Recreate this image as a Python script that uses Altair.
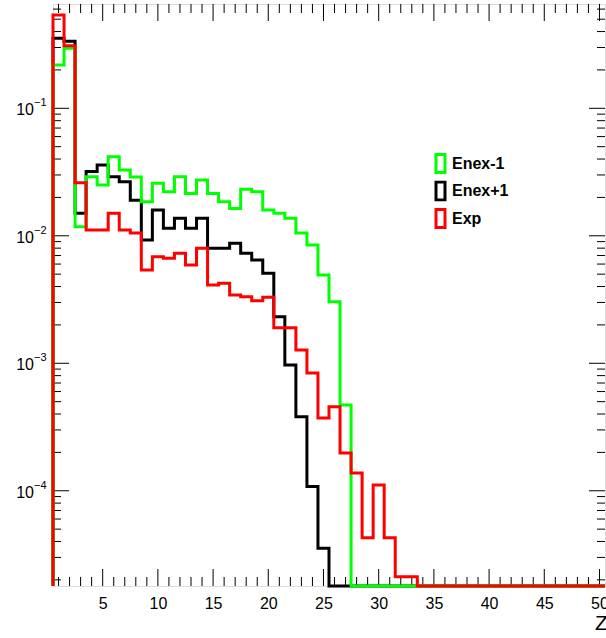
import altair as alt
import pandas as pd

FONT = "Liberation Sans"

# ---------------- data (bin contents, bins centred at 1..50, width 1) ----------------
bins = list(range(1, 51))

enex_m1 = [0.219, 0.296, 0.0118, 0.0291, 0.0250, 0.0417, 0.0328, 0.0289, 0.0185, 0.0258,
           0.0222, 0.0291, 0.0215, 0.0274, 0.0215, 0.0185, 0.0164, 0.0232, 0.0222, 0.0159,
           0.0150, 0.0137, 0.0105, 0.00848, 0.00493, 0.00304, 0.00047, 0, 0, 0,
           0, 0, 0, 0, 0, 0, 0, 0, 0, 0,
           0, 0, 0, 0, 0, 0, 0, 0, 0, 0]

enex_p1 = [0.354, 0.336, 0.0150, 0.0319, 0.0359, 0.0290, 0.0265, 0.0190, 0.00927, 0.0159,
           0.01146, 0.0137, 0.01146, 0.0137, 0.00798, 0.00798, 0.00873, 0.00730, 0.00646, 0.00508,
           0.00232, 0.000971, 0.000381, 0.000108, 0.0000354, 0, 0, 0, 0, 0,
           0, 0, 0, 0, 0, 0, 0, 0, 0, 0,
           0, 0, 0, 0, 0, 0, 0, 0, 0, 0]

exp_vals = [0.54, 0.31, 0.0261, 0.0111, 0.0111, 0.0150, 0.0111, 0.0105, 0.0054, 0.00686,
            0.00667, 0.0073, 0.0059, 0.00798, 0.00411, 0.00424, 0.00343, 0.00333, 0.0031, 0.0033,
            0.0019, 0.0019, 0.00127, 0.00084, 0.000372, 0.000457, 0.000198, 0.000138, 0.0000427, 0.000111,
            0.0000427, 0.0000212, 0.0000212, 0, 0, 0, 0, 0, 0, 0,
            0, 0, 0, 0, 0, 0, 0, 0, 0, 0]

series_names = ["Enex-1", "Enex+1", "Exp"]
series_colors = ["#00ff00", "#000000", "#ff0000"]
series_values = [enex_m1, enex_p1, exp_vals]
draw_order = ["Enex+1", "Enex-1", "Exp"]

x_min, x_max = 0.5, 50.5
y_min, y_max = 1.79e-5, 0.658

x_label_values = [5, 10, 15, 20, 25, 30, 35, 40, 45, 50]
x_minor_ticks = [v for v in range(1, 51) if v % 5 != 0]
y_major_ticks = [1e-1, 1e-2, 1e-3, 1e-4]
y_base_labels = ["10", "10", "10", "10"]
y_exp_labels = ["\u22121", "\u22122", "\u22123", "\u22124"]
y_mantissas = [2, 3, 4, 5, 6, 7, 8, 9]
y_decades = [1e-5, 1e-4, 1e-3, 1e-2, 1e-1]
y_minor_ticks = [m * d for d in y_decades for m in y_mantissas if y_min <= m * d <= y_max]

W, H = 552, 582

# ---------------- histogram outlines ----------------
rows = []
for name, vals in zip(series_names, series_values):
    k = 0
    rows.append(dict(series=name, x=x_min, y=y_min, k=k)); k += 1
    for b, v in zip(bins, vals):
        vv = max(v, y_min)
        rows.append(dict(series=name, x=b - 0.5, y=vv, k=k)); k += 1
        rows.append(dict(series=name, x=b + 0.5, y=vv, k=k)); k += 1
    rows.append(dict(series=name, x=x_max, y=y_min, k=k))
hist = pd.DataFrame(rows)

xs = alt.Scale(domain=[x_min, x_max], nice=False, zero=False)
ys = alt.Scale(type="log", domain=[y_min, y_max], nice=False)

legend = alt.Legend(
    orient="none", legendX=377, legendY=149, title=None, padding=0,
    symbolType="M-0.5,-1L0.5,-1L0.5,1L-0.5,1Z", symbolSize=324, symbolStrokeWidth=3,
    symbolFillColor="transparent", labelFont=FONT, labelFontSize=16, labelFontWeight="bold",
    labelColor="black", labelOffset=1, rowPadding=6.5, clipHeight=21,
)
color = alt.Color("series:N", scale=alt.Scale(domain=series_names, range=series_colors), legend=legend)

x_axis = alt.Axis(values=x_label_values, labelFont=FONT, labelFontSize=16, labelColor="black",
                  ticks=False, tickSize=0, domain=False, grid=False, title=None,
                  labelPadding=9, labelFlush=False, labelOverlap=False, format="d")

layers = []
for name in draw_order:
    layers.append(
        alt.Chart(hist).transform_filter(alt.datum.series == name)
        .mark_line(strokeWidth=3, strokeJoin="miter", strokeCap="butt", clip=False)
        .encode(
            x=alt.X("x:Q", scale=xs, axis=x_axis),
            y=alt.Y("y:Q", scale=ys, axis=None),
            color=color,
            order=alt.Order("k:Q"),
        )
    )

# ---------------- ticks (inside, all four sides) ----------------
def xticks(values, length):
    df = pd.DataFrame({"t": values})
    base = alt.Chart(df).mark_rule(color="black", strokeWidth=1)
    bottom = base.encode(x=alt.X("t:Q", scale=xs, axis=x_axis), y=alt.value(H), y2=alt.value(H - length))
    top = base.encode(x=alt.X("t:Q", scale=xs, axis=x_axis), y=alt.value(0), y2=alt.value(length))
    return [bottom, top]

def yticks(values, length):
    df = pd.DataFrame({"t": values})
    base = alt.Chart(df).mark_rule(color="black", strokeWidth=1)
    left = base.encode(y=alt.Y("t:Q", scale=ys, axis=None), x=alt.value(0), x2=alt.value(length))
    right = base.encode(y=alt.Y("t:Q", scale=ys, axis=None), x=alt.value(W), x2=alt.value(W - length))
    return [left, right]

tick_layers = (xticks(x_label_values, 17) + xticks(x_minor_ticks, 9)
               + yticks(y_major_ticks, 16) + yticks(y_minor_ticks, 8))

# ---------------- y labels 10^-n ----------------
ylab = pd.DataFrame({"v": y_major_ticks, "base": y_base_labels, "exp": y_exp_labels})
ybase = alt.Chart(ylab).mark_text(align="right", baseline="middle", font=FONT, fontSize=16,
                                  color="black", dy=2).encode(
    y=alt.Y("v:Q", scale=ys, axis=None), x=alt.value(-19), text="base:N")
yexp = alt.Chart(ylab).mark_text(align="left", baseline="middle", font=FONT, fontSize=11,
                                 color="black", dy=-5).encode(
    y=alt.Y("v:Q", scale=ys, axis=None), x=alt.value(-19), text="exp:N")

ztitle = alt.Chart(pd.DataFrame({"t": ["Z"]})).mark_text(
    align="left", baseline="middle", font=FONT, fontSize=21, color="black").encode(
    x=alt.value(542), y=alt.value(620), text="t:N")

chart = alt.layer(*tick_layers, *layers, ybase, yexp, ztitle).properties(
    width=W, height=H,
    autosize=alt.AutoSizeParams(type="none"),
    padding={"left": 53, "top": 4, "right": 1, "bottom": 52},
).configure_view(stroke="black", strokeWidth=1.2).configure(background="white")

chart.save("out.html", embed_options={"renderer": "svg", "actions": False})
